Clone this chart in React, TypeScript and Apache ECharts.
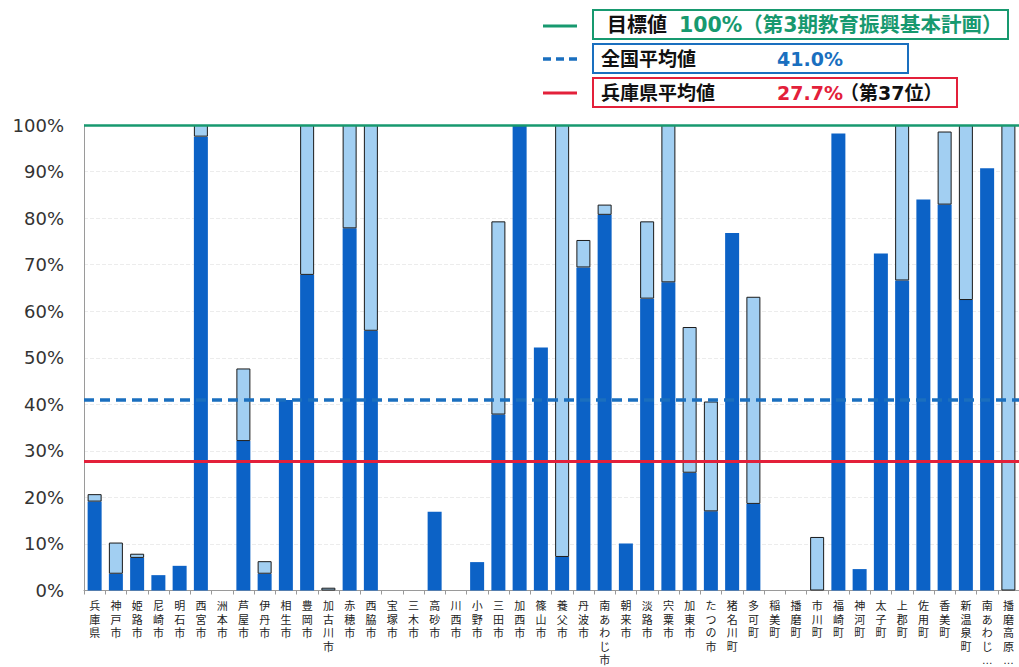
import React, { useEffect, useRef } from "react";
import * as echarts from "echarts";

const categories = [
  "兵庫県", "神戸市", "姫路市", "尼崎市", "明石市", "西宮市", "洲本市", "芦屋市", "伊丹市", "相生市",
  "豊岡市", "加古川市", "赤穂市", "西脇市", "宝塚市", "三木市", "高砂市", "川西市", "小野市", "三田市",
  "加西市", "篠山市", "養父市", "丹波市", "南あわじ市", "朝来市", "淡路市", "宍粟市", "加東市", "たつの市",
  "猪名川町", "多可町", "稲美町", "播磨町", "市川町", "福崎町", "神河町", "太子町", "上郡町", "佐用町",
  "香美町", "新温泉町", "南あわじ…", "播磨高原…",
];

// lower (dark blue) part, %
const darkValues = [
  19.1, 3.6, 7.0, 3.3, 5.3, 97.5, 0, 32.1, 3.6, 40.9,
  67.8, 0, 77.8, 55.8, 0, 0, 16.9, 0, 6.1, 37.8,
  100, 52.2, 7.2, 69.4, 80.7, 10.1, 62.7, 66.2, 25.3, 17.0,
  76.8, 18.6, 0, 0, 0, 98.2, 4.6, 72.4, 66.6, 84.0,
  82.9, 62.4, 90.7, 0,
];

// upper (light blue) part, %
const lightValues = [
  1.6, 6.7, 0.9, 0, 0, 2.5, 0, 15.6, 2.7, 0,
  32.2, 0.6, 22.2, 44.2, 0, 0, 0, 0, 0, 41.5,
  0, 0, 92.8, 5.9, 2.2, 0, 16.6, 33.8, 31.3, 23.6,
  0, 44.5, 0, 0, 11.5, 0, 0, 0, 33.4, 0,
  15.7, 37.6, 0, 100,
];

const targetValue = 100;
const nationalAvg = 41.0;
const hyogoAvg = 27.7;
const yTicks = [0, 10, 20, 30, 40, 50, 60, 70, 80, 90, 100];

const GREEN = "#17996f";
const BLUE = "#1a6fbf";
const RED = "#e3203a";
const DARK = "#0c62c6";
const LIGHT = "#a2cff2";
const LABEL_FONT = "'Liberation Sans', 'Noto Sans CJK JP', sans-serif";
const LEG = "'DejaVu Sans', 'Noto Sans CJK JP', sans-serif";

const nz = (arr: number[]) => arr.map((v) => (v === 0 ? "-" : v));

export default function App() {
  const ref = useRef<HTMLDivElement>(null);
  useEffect(() => {
    document.body.style.margin = "0";
    const chart = echarts.init(ref.current!, undefined, { renderer: "svg" });
    const legendText = (x: number, y: number, text: string, fill: string, size = 19) => ({
      type: "text",
      x,
      y,
      style: { text, fill, font: `bold ${size}px ${LEG}`, textVerticalAlign: "middle" },
    });
    chart.setOption({
      animation: false,
      backgroundColor: "#ffffff",
      grid: { left: 84, right: 0, top: 125, bottom: 68, containLabel: false },
      xAxis: {
        type: "category",
        data: categories,
        axisLine: { lineStyle: { color: "#9a9a9a", width: 1 } },
        axisTick: { show: true, length: 4, lineStyle: { color: "#9a9a9a" } },
        axisLabel: {
          interval: 0,
          margin: 9,
          color: "#222",
          fontSize: 11,
          lineHeight: 13.5,
          fontFamily: LABEL_FONT,
          formatter: (v: string) => v.split("").join("\n"),
        },
      },
      yAxis: {
        type: "value",
        min: 0,
        max: 100,
        interval: 10,
        axisLine: { show: true, lineStyle: { color: "#9a9a9a" } },
        axisTick: { show: false },
        splitLine: { show: true, lineStyle: { color: "#ececec", type: "dashed" } },
        axisLabel: {
          margin: 20,
          color: "#333",
          fontSize: 18,
          fontFamily: "'DejaVu Sans', Verdana, sans-serif",
          formatter: (v: number) => (yTicks.includes(v) ? `${v}%` : ""),
        },
      },
      series: [
        {
          type: "bar",
          stack: "s",
          data: nz(darkValues),
          barWidth: 14,
          itemStyle: { color: DARK },
        },
        {
          type: "bar",
          stack: "s",
          data: nz(lightValues),
          barWidth: 14,
          itemStyle: { color: LIGHT, borderColor: "#1a1a1a", borderWidth: 1 },
          markLine: {
            silent: true,
            symbol: "none",
            label: { show: false },
            z: 10,
            data: [
              { yAxis: targetValue, lineStyle: { color: GREEN, width: 2.5, type: "solid" } },
              { yAxis: nationalAvg, lineStyle: { color: BLUE, width: 3.5, type: [10, 6] } },
              { yAxis: hyogoAvg, lineStyle: { color: RED, width: 3, type: "solid" } },
            ],
          },
        },
      ],
      graphic: [
        { type: "line", shape: { x1: 543, y1: 26, x2: 577, y2: 26 }, style: { stroke: GREEN, lineWidth: 3 } },
        { type: "line", shape: { x1: 543, y1: 59, x2: 577, y2: 59 }, style: { stroke: BLUE, lineWidth: 3.5, lineDash: [8, 5] } },
        { type: "line", shape: { x1: 543, y1: 93, x2: 577, y2: 93 }, style: { stroke: RED, lineWidth: 3 } },
        { type: "rect", shape: { x: 593, y: 10, width: 415, height: 29 }, style: { fill: "none", stroke: GREEN, lineWidth: 2 } },
        { type: "rect", shape: { x: 593, y: 44, width: 315, height: 29 }, style: { fill: "none", stroke: BLUE, lineWidth: 2 } },
        { type: "rect", shape: { x: 593, y: 78, width: 364, height: 29 }, style: { fill: "none", stroke: RED, lineWidth: 2 } },
        legendText(607, 25, "目標値", "#111", 20),
        legendText(679, 25, "100%（第3期教育振興基本計画）", GREEN, 20.5),
        legendText(601, 59, "全国平均値", "#111"),
        legendText(777, 59, "41.0%", BLUE),
        legendText(601, 93, "兵庫県平均値", "#111"),
        legendText(777, 93, "27.7%", RED),
        legendText(840, 93, "（第37位）", "#111"),
      ],
    });
    return () => chart.dispose();
  }, []);
  return <div ref={ref} style={{ width: 1019, height: 667 }} />;
}
